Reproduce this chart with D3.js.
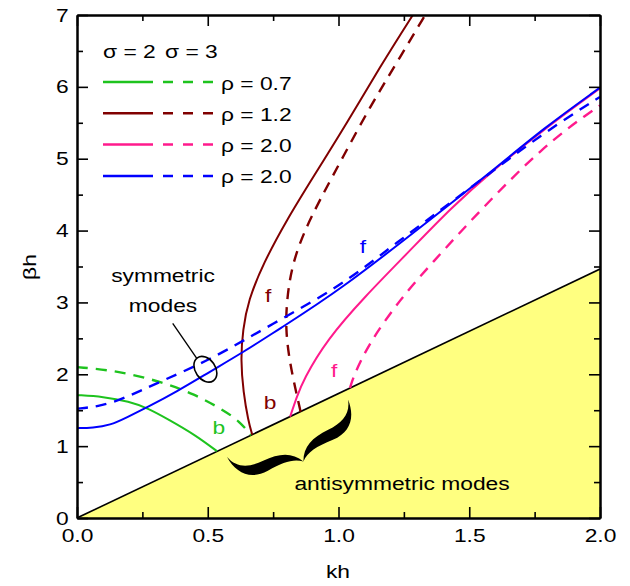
<!DOCTYPE html>
<html>
<head>
<meta charset="utf-8">
<script src="https://cdn.jsdelivr.net/npm/d3@7"></script>
<style>
  body { margin: 0; background: #fff; }
  text { font-family: "Liberation Sans", Arial, sans-serif; }
</style>
</head>
<body>
<svg id="chart" width="630" height="586"></svg>
<script>
// dispersion branches as [kh, beta*h]; solid = sigma 2, dashed = sigma 3
const rho07_s2 = [[0,1.71],[0.1,1.69],[0.2,1.62],[0.27,1.53],[0.35,1.37],[0.45,1.16],[0.535,0.93]];
const rho07_s3 = [[0,2.10],[0.153,2.05],[0.319,1.90],[0.446,1.73],[0.561,1.50],[0.62,1.35],[0.666,1.153]];
const rho12_s2 = [[0.67,1.16],[0.655,1.35],[0.636,1.75],[0.626,2.2],[0.634,2.62],[0.655,3.03],[0.712,3.54],[0.802,4.15],[0.904,4.75],[1.031,5.49],[1.159,6.28],[1.284,7.0],[1.32,7.2]];
const rho12_s3 = [[0.855,1.48],[0.835,1.8],[0.812,2.2],[0.798,2.62],[0.802,3.03],[0.821,3.50],[0.865,3.96],[0.929,4.43],[1.018,5.03],[1.12,5.72],[1.222,6.33],[1.331,7.0],[1.37,7.22]];
const rho20_s2 = [[0.815,1.41],[0.84,1.68],[0.865,1.92],[0.955,2.48],[1.10,3.08],[1.273,3.72],[1.426,4.30],[1.59,4.84],[1.8,5.45],[2.0,5.98]];
const rho20_s3 = [[1.044,1.81],[1.06,2.0],[1.12,2.45],[1.235,3.04],[1.35,3.52],[1.554,4.33],[1.783,5.17],[1.962,5.65],[2.0,5.74]];
const rho20b_s2 = [[0,1.25],[0.06,1.255],[0.127,1.29],[0.19,1.40],[0.268,1.54],[0.382,1.76],[0.51,2.04],[0.637,2.31],[0.76,2.60],[1.006,3.17],[1.35,4.15],[1.592,4.84],[1.783,5.42],[2.0,5.99]];
const rho20b_s3 = [[0,1.52],[0.08,1.55],[0.166,1.64],[0.331,1.92],[0.51,2.20],[0.751,2.71],[1.006,3.22],[1.21,3.80],[1.5,4.58],[1.783,5.36],[2.0,5.86]];

// light line beta = sqrt(3) k bounding the antisymmetric region
const lightLine = [[0,0],[2,3.464]];

const legendLabels = ["ρ = 0.7", "ρ = 1.2", "ρ = 2.0", "ρ = 2.0"];
const xTicks = [0, 0.5, 1.0, 1.5, 2.0];
const xMinor = [0.25, 0.75, 1.25, 1.75];
const yTicks = [0, 1, 2, 3, 4, 5, 6, 7];
const yMinor = [0.5, 1.5, 2.5, 3.5, 4.5, 5.5, 6.5];

const colors = ["#1ec31e", "#800000", "#ff1a8c", "#0000ff"];
const pairs = [[rho07_s2, rho07_s3], [rho12_s2, rho12_s3], [rho20_s2, rho20_s3], [rho20b_s2, rho20b_s3]];

const svg = d3.select("#chart");
const x = d3.scaleLinear().domain([0, 2]).range([77, 600]);
const y = d3.scaleLinear().domain([0, 7]).range([518, 15]);
const SX = "scale(1.2,1)";

svg.append("clipPath").attr("id", "plot")
  .append("rect").attr("x", 77).attr("y", 15).attr("width", 523).attr("height", 503);

const plot = svg.append("g").attr("clip-path", "url(#plot)");

// yellow region below the light line
plot.append("path")
  .attr("d", d3.line().x(d => x(d[0])).y(d => y(d[1]))([lightLine[0], lightLine[1], [lightLine[1][0], 0]]) + "Z")
  .attr("fill", "#ffff80");
plot.append("path")
  .attr("d", d3.line().x(d => x(d[0])).y(d => y(d[1]))(lightLine))
  .attr("fill", "none").attr("stroke", "#000").attr("stroke-width", 1.6);

// b-spline smooths out reading noise in the points
const curve = d3.line().x(d => x(d[0])).y(d => y(d[1])).curve(d3.curveBasis);

pairs.forEach(function(p, i) {
  plot.append("path").attr("d", curve(p[0]))
    .attr("fill", "none").attr("stroke", colors[i]).attr("stroke-width", 2);
  plot.append("path").attr("d", curve(p[1]))
    .attr("fill", "none").attr("stroke", colors[i]).attr("stroke-width", 2.4)
    .attr("stroke-dasharray", "11,8");
});

function label(g, px, py, str, color, anchor) {
  return g.append("text")
    .attr("transform", `translate(${px},${py}) ${SX}`)
    .attr("text-anchor", anchor || "middle")
    .attr("font-size", 19)
    .attr("fill", color || "#000")
    .text(str);
}

// branch labels
label(svg, x(0.731), y(3.10) + 7, "f", colors[1]);
label(svg, x(0.738), y(1.62) + 7, "b", colors[1]);
label(svg, x(1.093), y(3.78) + 7, "f", colors[3]);
label(svg, x(0.983), y(2.06) + 7, "f", colors[2]);
label(svg, x(0.542), y(1.27) + 7, "b", colors[0]);

// symmetric modes note
label(svg, x(0.329), y(3.28), "symmetric");
label(svg, x(0.329), y(2.87), "modes");
svg.append("line")
  .attr("x1", x(0.366)).attr("y1", y(2.71)).attr("x2", x(0.458)).attr("y2", y(2.22))
  .attr("stroke", "#000").attr("stroke-width", 1.3);
svg.append("ellipse")
  .attr("transform", `translate(${x(0.491)},${y(2.07)}) rotate(55)`)
  .attr("rx", 14).attr("ry", 10)
  .attr("fill", "none").attr("stroke", "#000").attr("stroke-width", 1.6);

// brace under the light line
const angle = Math.atan2(y(lightLine[1][1]) - y(0), x(lightLine[1][0]) - x(0)) * 180 / Math.PI;
svg.append("path")
  .attr("transform", `translate(${x(0.805)},${y(1.25)}) rotate(${angle})`)
  .attr("d", "M-67,0 C-63,14 -52,19 -36,19 C-18,19 -6,24 0,37 C-8,30 -18,29 -36,30 C-56,31 -66,18 -67,0Z" +
             "M67,0 C63,14 52,19 36,19 C18,19 6,24 0,37 C8,30 18,29 36,30 C56,31 66,18 67,0Z")
  .attr("fill", "#000");
label(svg, x(1.243), y(0.39), "antisymmetric modes");

// legend
label(svg, 103, 58, "σ = 2", "#000", "start");
label(svg, 165, 58, "σ = 3", "#000", "start");
legendLabels.forEach(function(t, i) {
  const ly = 82 + i * 31.3;
  svg.append("line").attr("x1", 103).attr("x2", 153).attr("y1", ly).attr("y2", ly)
    .attr("stroke", colors[i]).attr("stroke-width", 2.5);
  svg.append("line").attr("x1", 163).attr("x2", 213).attr("y1", ly).attr("y2", ly)
    .attr("stroke", colors[i]).attr("stroke-width", 2.5).attr("stroke-dasharray", "10,10");
  label(svg, 221, ly + 7.5, t, "#000", "start");
});

// axes, ticks pointing inwards
function styleAxis(g) {
  g.select(".domain").attr("stroke-width", 2);
  g.selectAll(".tick line").attr("stroke-width", 1.6);
  g.selectAll("text").attr("font-size", 19).attr("fill", "#000");
}
svg.append("g").attr("transform", "translate(0,518)")
  .call(d3.axisBottom(x).tickValues(xTicks).tickFormat(d3.format(".1f")).tickSizeInner(-11).tickSizeOuter(0).tickPadding(11))
  .call(styleAxis)
  .selectAll("text").attr("transform", SX);
svg.append("g").attr("transform", "translate(0,518)")
  .call(d3.axisBottom(x).tickValues(xMinor).tickFormat("").tickSizeInner(-6).tickSizeOuter(0)).call(styleAxis);
svg.append("g").attr("transform", "translate(0,15)")
  .call(d3.axisTop(x).tickValues(xTicks).tickFormat("").tickSizeInner(-11).tickSizeOuter(0)).call(styleAxis);
svg.append("g").attr("transform", "translate(0,15)")
  .call(d3.axisTop(x).tickValues(xMinor).tickFormat("").tickSizeInner(-6).tickSizeOuter(0)).call(styleAxis);

svg.append("g").attr("transform", "translate(77,0)")
  .call(d3.axisLeft(y).tickValues(yTicks).tickFormat(d3.format("d")).tickSizeInner(-11).tickSizeOuter(0).tickPadding(7))
  .call(styleAxis)
  .selectAll("text").attr("transform", SX);
svg.append("g").attr("transform", "translate(77,0)")
  .call(d3.axisLeft(y).tickValues(yMinor).tickFormat("").tickSizeInner(-6).tickSizeOuter(0)).call(styleAxis);
svg.append("g").attr("transform", "translate(600,0)")
  .call(d3.axisRight(y).tickValues(yTicks).tickFormat("").tickSizeInner(-11).tickSizeOuter(0)).call(styleAxis);
svg.append("g").attr("transform", "translate(600,0)")
  .call(d3.axisRight(y).tickValues(yMinor).tickFormat("").tickSizeInner(-6).tickSizeOuter(0)).call(styleAxis);

// axis titles
label(svg, 338, 578, "kh");
svg.append("text")
  .attr("transform", `translate(36,267) rotate(-90) ${SX}`)
  .attr("text-anchor", "middle").attr("font-size", 19).text("βh");
</script>
</body>
</html>
